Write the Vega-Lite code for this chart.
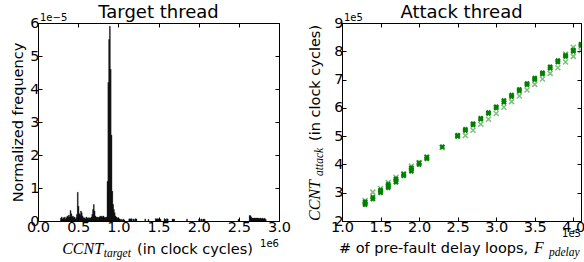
{
  "$schema": "https://vega.github.io/schema/vega-lite/v6.json",
  "padding": {"left": 10, "top": 3, "right": 5, "bottom": 5},
  "background": "white",
  "config": {
    "font": "DejaVu Sans",
    "view": {"stroke": "black", "strokeWidth": 1},
    "axis": {"grid": false, "domainColor": "black", "tickColor": "black", "tickSize": -4, "labelColor": "black", "labelFont": "DejaVu Sans", "labelFontSize": 14.5, "labelFlush": false, "titleFont": "DejaVu Sans", "titleFontSize": 14.5, "titleFontWeight": "normal", "titleColor": "black", "labelPadding": 3, "titlePadding": 4},
    "title": {"font": "DejaVu Sans", "fontSize": 18, "fontWeight": "normal", "color": "black"},
    "text": {"color": "black"}
  },
  "datasets": {
    "hist": [
      {"a":0.28,"b":0.29,"f":0.08},{"a":0.29,"b":0.30,"f":0.12},{"a":0.30,"b":0.31,"f":0.06},{"a":0.31,"b":0.32,"f":0.10},{"a":0.32,"b":0.33,"f":0.08},{"a":0.33,"b":0.34,"f":0.12},{"a":0.34,"b":0.35,"f":0.05},{"a":0.35,"b":0.36,"f":0.10},{"a":0.36,"b":0.37,"f":0.15},{"a":0.37,"b":0.38,"f":0.12},{"a":0.38,"b":0.39,"f":0.18},{"a":0.39,"b":0.40,"f":0.12},
      {"a":0.40,"b":0.41,"f":0.32},{"a":0.41,"b":0.42,"f":0.22},{"a":0.42,"b":0.43,"f":0.12},{"a":0.43,"b":0.44,"f":0.15},{"a":0.44,"b":0.45,"f":0.10},{"a":0.45,"b":0.46,"f":0.12},{"a":0.46,"b":0.47,"f":0.06},{"a":0.47,"b":0.48,"f":0.10},{"a":0.48,"b":0.49,"f":0.20},{"a":0.49,"b":0.50,"f":0.87},
      {"a":0.50,"b":0.51,"f":0.45},{"a":0.51,"b":0.52,"f":0.22},{"a":0.52,"b":0.53,"f":0.18},{"a":0.53,"b":0.54,"f":0.30},{"a":0.54,"b":0.55,"f":0.25},{"a":0.55,"b":0.56,"f":0.15},{"a":0.56,"b":0.57,"f":0.10},{"a":0.57,"b":0.58,"f":0.08},{"a":0.58,"b":0.59,"f":0.10},{"a":0.59,"b":0.60,"f":0.06},
      {"a":0.60,"b":0.61,"f":0.12},{"a":0.61,"b":0.62,"f":0.08},{"a":0.62,"b":0.63,"f":0.10},{"a":0.63,"b":0.64,"f":0.07},{"a":0.64,"b":0.65,"f":0.10},{"a":0.65,"b":0.66,"f":0.08},{"a":0.66,"b":0.67,"f":0.12},{"a":0.67,"b":0.68,"f":0.20},{"a":0.68,"b":0.69,"f":0.35},{"a":0.69,"b":0.70,"f":0.50},
      {"a":0.70,"b":0.71,"f":0.30},{"a":0.71,"b":0.72,"f":0.15},{"a":0.72,"b":0.73,"f":0.12},{"a":0.73,"b":0.74,"f":0.10},{"a":0.74,"b":0.75,"f":0.12},{"a":0.75,"b":0.76,"f":0.10},{"a":0.76,"b":0.77,"f":0.12},{"a":0.77,"b":0.78,"f":0.15},{"a":0.78,"b":0.79,"f":0.12},{"a":0.79,"b":0.80,"f":0.15},
      {"a":0.80,"b":0.81,"f":0.12},{"a":0.81,"b":0.82,"f":0.15},{"a":0.82,"b":0.83,"f":0.10},{"a":0.83,"b":0.84,"f":0.12},{"a":0.84,"b":0.85,"f":0.08},{"a":0.85,"b":0.86,"f":0.12},{"a":0.86,"b":0.87,"f":1.20},{"a":0.87,"b":0.88,"f":4.20},{"a":0.88,"b":0.89,"f":5.50},{"a":0.89,"b":0.90,"f":5.90},
      {"a":0.90,"b":0.91,"f":4.60},{"a":0.91,"b":0.92,"f":2.60},{"a":0.92,"b":0.93,"f":0.90},{"a":0.93,"b":0.94,"f":0.50},{"a":0.94,"b":0.95,"f":0.35},{"a":0.95,"b":0.96,"f":0.25},{"a":0.96,"b":0.97,"f":0.15},{"a":0.97,"b":0.98,"f":0.12},{"a":0.98,"b":0.99,"f":0.08},{"a":0.99,"b":1.00,"f":0.10},
      {"a":1.00,"b":1.01,"f":0.05},{"a":1.01,"b":1.02,"f":0.07},{"a":1.02,"b":1.03,"f":0.04},{"a":1.03,"b":1.04,"f":0.05},
      {"a":1.05,"b":1.06,"f":0.04},{"a":1.06,"b":1.07,"f":0.05},{"a":1.07,"b":1.08,"f":0.03},
      {"a":1.13,"b":1.14,"f":0.06},{"a":1.14,"b":1.15,"f":0.07},{"a":1.15,"b":1.16,"f":0.05},{"a":1.16,"b":1.17,"f":0.07},{"a":1.18,"b":1.19,"f":0.06},{"a":1.19,"b":1.20,"f":0.05},{"a":1.21,"b":1.22,"f":0.07},{"a":1.22,"b":1.23,"f":0.06},
      {"a":1.33,"b":1.34,"f":0.06},{"a":1.37,"b":1.38,"f":0.05},
      {"a":1.46,"b":1.47,"f":0.07},{"a":1.47,"b":1.48,"f":0.06},{"a":1.48,"b":1.49,"f":0.07},{"a":1.49,"b":1.50,"f":0.05},{"a":1.50,"b":1.51,"f":0.07},{"a":1.51,"b":1.52,"f":0.06},{"a":1.52,"b":1.53,"f":0.05},
      {"a":1.57,"b":1.58,"f":0.07},{"a":1.58,"b":1.59,"f":0.05},{"a":1.60,"b":1.61,"f":0.07},{"a":1.61,"b":1.62,"f":0.06},
      {"a":1.67,"b":1.68,"f":0.06},{"a":1.68,"b":1.69,"f":0.05},{"a":1.69,"b":1.70,"f":0.06},
      {"a":1.85,"b":1.86,"f":0.06},
      {"a":2.00,"b":2.01,"f":0.06},{"a":2.01,"b":2.02,"f":0.05},{"a":2.03,"b":2.04,"f":0.06},{"a":2.05,"b":2.06,"f":0.05},{"a":2.06,"b":2.07,"f":0.06},{"a":2.07,"b":2.08,"f":0.05},
      {"a":2.49,"b":2.50,"f":0.05},
      {"a":2.63,"b":2.64,"f":0.17},{"a":2.64,"b":2.65,"f":0.16},{"a":2.65,"b":2.66,"f":0.12},{"a":2.66,"b":2.67,"f":0.08},{"a":2.67,"b":2.68,"f":0.09},{"a":2.68,"b":2.69,"f":0.08},{"a":2.69,"b":2.70,"f":0.09},{"a":2.70,"b":2.71,"f":0.08},{"a":2.71,"b":2.72,"f":0.09},{"a":2.72,"b":2.73,"f":0.08},
      {"a":2.73,"b":2.74,"f":0.09},{"a":2.74,"b":2.75,"f":0.08},{"a":2.75,"b":2.76,"f":0.07},{"a":2.76,"b":2.77,"f":0.09},{"a":2.77,"b":2.78,"f":0.08},{"a":2.78,"b":2.79,"f":0.07},{"a":2.79,"b":2.80,"f":0.08},{"a":2.80,"b":2.81,"f":0.06},{"a":2.81,"b":2.82,"f":0.08},{"a":2.82,"b":2.83,"f":0.07},{"a":2.83,"b":2.84,"f":0.05}
    ],
    "dark": [
      {"x":1.3,"y":2.58},{"x":1.3,"y":2.63},{"x":1.3,"y":2.68},
      {"x":1.4,"y":2.78},{"x":1.4,"y":2.84},
      {"x":1.5,"y":3.0},{"x":1.5,"y":3.05},{"x":1.5,"y":3.09},
      {"x":1.6,"y":3.18},{"x":1.6,"y":3.24},{"x":1.6,"y":3.3},
      {"x":1.7,"y":3.37},{"x":1.7,"y":3.43},{"x":1.7,"y":3.49},
      {"x":1.8,"y":3.6},{"x":1.8,"y":3.66},
      {"x":1.9,"y":3.76},{"x":1.9,"y":3.82},{"x":1.9,"y":3.88},
      {"x":2.0,"y":4.0},{"x":2.0,"y":4.06},
      {"x":2.1,"y":4.2},{"x":2.1,"y":4.26},
      {"x":2.3,"y":4.62},
      {"x":2.5,"y":5.0},{"x":2.5,"y":5.03},
      {"x":2.6,"y":5.2},{"x":2.6,"y":5.24},
      {"x":2.7,"y":5.4},{"x":2.7,"y":5.44},
      {"x":2.8,"y":5.6},{"x":2.8,"y":5.63},
      {"x":2.9,"y":5.8},{"x":2.9,"y":5.83},
      {"x":3.0,"y":6.0},{"x":3.0,"y":6.04},
      {"x":3.1,"y":6.2},{"x":3.1,"y":6.26},
      {"x":3.2,"y":6.4},{"x":3.2,"y":6.45},
      {"x":3.3,"y":6.6},{"x":3.3,"y":6.65},
      {"x":3.4,"y":6.82},{"x":3.4,"y":6.86},
      {"x":3.5,"y":7.0},{"x":3.5,"y":7.05},
      {"x":3.6,"y":7.2},{"x":3.6,"y":7.24},
      {"x":3.7,"y":7.4},{"x":3.7,"y":7.45},
      {"x":3.8,"y":7.62},{"x":3.8,"y":7.67},
      {"x":3.9,"y":7.82},{"x":3.9,"y":7.86},
      {"x":4.0,"y":8.0},{"x":4.0,"y":8.04},
      {"x":4.1,"y":8.2},{"x":4.1,"y":8.25}
    ],
    "light": [
      {"x":1.3,"y":2.72},{"x":1.4,"y":3.02},{"x":1.5,"y":3.15},{"x":1.6,"y":3.36},{"x":1.7,"y":3.55},{"x":1.8,"y":3.66},{"x":1.9,"y":3.94},{"x":2.0,"y":4.07},{"x":2.1,"y":4.25},{"x":2.3,"y":4.6},{"x":2.5,"y":5.0},{"x":2.6,"y":5.02},{"x":2.7,"y":5.21},{"x":2.8,"y":5.42},{"x":2.9,"y":5.6},{"x":3.0,"y":5.8},{"x":3.1,"y":6.02},{"x":3.2,"y":6.22},{"x":3.3,"y":6.42},{"x":3.4,"y":6.63},{"x":3.5,"y":6.83},{"x":3.6,"y":7.02},{"x":3.7,"y":7.22},{"x":3.8,"y":7.42},{"x":3.9,"y":7.62},{"x":3.9,"y":7.9},{"x":4.0,"y":7.82},{"x":4.0,"y":8.14},{"x":4.1,"y":8.02}
    ]
  },
  "spacing": 63,
  "bounds": "flush",
  "hconcat": [
    {
      "width": 241,
      "height": 198,
      "title": {"text": "Target thread", "frame": "group", "offset": -9},
      "resolve": {"axis": {"x": "independent", "y": "independent"}},
      "layer": [
        {
          "data": {"name": "hist"},
          "mark": {"type": "bar", "color": "black", "stroke": "black", "strokeWidth": 0.4},
          "encoding": {
            "x": {"field": "a", "type": "quantitative", "scale": {"domain": [0, 3], "nice": false, "zero": false}, "axis": {"values": [0, 0.5, 1, 1.5, 2, 2.5, 3], "format": ".1f", "title": null}},
            "x2": {"field": "b"},
            "y": {"field": "f", "type": "quantitative", "stack": null, "scale": {"domain": [0, 6], "nice": false}, "axis": {"values": [0, 1, 2, 3, 4, 5, 6], "format": "d", "title": "Normalized frequency"}},
            "y2": {"datum": 0}
          }
        },
        {
          "data": {"name": "hist"},
          "mark": {"type": "point", "opacity": 0},
          "encoding": {
            "x": {"field": "a", "type": "quantitative", "axis": {"orient": "top", "labels": false, "domain": false, "title": null, "values": [0, 0.5, 1, 1.5, 2, 2.5, 3]}},
            "y": {"field": "f", "type": "quantitative", "axis": {"orient": "right", "labels": false, "domain": false, "title": null, "values": [0, 1, 2, 3, 4, 5, 6]}}
          }
        },
        {
          "data": {"values": [{}]},
          "mark": {"type": "text", "text": "1e−5", "align": "left", "baseline": "alphabetic", "fontSize": 10, "dx": 2, "dy": -2},
          "encoding": {"x": {"datum": 0, "type": "quantitative", "axis": null}, "y": {"datum": 6, "type": "quantitative", "axis": null}}
        },
        {
          "data": {"values": [{}]},
          "mark": {"type": "text", "text": "CCNT", "align": "right", "baseline": "alphabetic", "font": "Liberation Serif", "fontStyle": "italic", "fontSize": 16, "dy": 33},
          "encoding": {"x": {"datum": 0.81, "type": "quantitative", "axis": null}, "y": {"datum": 0, "type": "quantitative", "axis": null}}
        },
        {
          "data": {"values": [{}]},
          "mark": {"type": "text", "text": "target", "align": "left", "baseline": "alphabetic", "font": "Liberation Serif", "fontStyle": "italic", "fontSize": 11.5, "dy": 36},
          "encoding": {"x": {"datum": 0.82, "type": "quantitative", "axis": null}, "y": {"datum": 0, "type": "quantitative", "axis": null}}
        },
        {
          "data": {"values": [{}]},
          "mark": {"type": "text", "text": "(in clock cycles)", "align": "left", "baseline": "alphabetic", "fontSize": 14.5, "dy": 33},
          "encoding": {"x": {"datum": 1.232, "type": "quantitative", "axis": null}, "y": {"datum": 0, "type": "quantitative", "axis": null}}
        },
        {
          "data": {"values": [{}]},
          "mark": {"type": "text", "text": "1e6", "align": "right", "baseline": "alphabetic", "fontSize": 10, "dy": 26},
          "encoding": {"x": {"datum": 3, "type": "quantitative", "axis": null}, "y": {"datum": 0, "type": "quantitative", "axis": null}}
        }
      ]
    },
    {
      "width": 239,
      "height": 198,
      "title": {"text": "Attack thread", "frame": "group", "offset": -9},
      "resolve": {"axis": {"x": "independent", "y": "independent"}},
      "layer": [
        {
          "data": {"name": "light"},
          "mark": {"type": "point", "shape": "M-1,-1L1,1M-1,1L1,-1", "filled": false, "stroke": "#008000", "strokeWidth": 1.5, "opacity": 0.5, "size": 25, "clip": true},
          "encoding": {
            "x": {"field": "x", "type": "quantitative", "scale": {"domain": [1, 4.1], "nice": false, "zero": false}, "axis": {"values": [1, 1.5, 2, 2.5, 3, 3.5, 4], "format": ".1f", "title": null}},
            "y": {"field": "y", "type": "quantitative", "scale": {"domain": [2, 9], "nice": false, "zero": false}, "axis": {"values": [2, 3, 4, 5, 6, 7, 8, 9], "format": "d", "title": null}}
          }
        },
        {
          "data": {"name": "dark"},
          "mark": {"type": "point", "shape": "cross", "angle": 45, "filled": true, "color": "#008000", "opacity": 1, "size": 32, "clip": true},
          "encoding": {
            "x": {"field": "x", "type": "quantitative", "axis": {"orient": "top", "labels": false, "domain": false, "title": null, "values": [1, 1.5, 2, 2.5, 3, 3.5, 4]}},
            "y": {"field": "y", "type": "quantitative", "axis": {"orient": "right", "labels": false, "domain": false, "title": null, "values": [2, 3, 4, 5, 6, 7, 8, 9]}}
          }
        },
        {
          "data": {"values": [{}]},
          "mark": {"type": "text", "text": "1e5", "align": "left", "baseline": "alphabetic", "fontSize": 10, "dx": 2, "dy": -2},
          "encoding": {"x": {"datum": 1, "type": "quantitative", "axis": null}, "y": {"datum": 9, "type": "quantitative", "axis": null}}
        },
        {
          "data": {"values": [{}]},
          "mark": {"type": "text", "text": "1e5", "align": "right", "baseline": "alphabetic", "fontSize": 10, "dy": 16},
          "encoding": {"x": {"datum": 4.1, "type": "quantitative", "axis": null}, "y": {"datum": 2, "type": "quantitative", "axis": null}}
        },
        {
          "data": {"values": [{}]},
          "mark": {"type": "text", "text": "# of pre-fault delay loops,", "align": "left", "baseline": "alphabetic", "fontSize": 14.5, "dy": 32},
          "encoding": {"x": {"datum": 0.961, "type": "quantitative", "axis": null}, "y": {"datum": 2, "type": "quantitative", "axis": null}}
        },
        {
          "data": {"values": [{}]},
          "mark": {"type": "text", "text": "F", "align": "left", "baseline": "alphabetic", "font": "Liberation Serif", "fontStyle": "italic", "fontSize": 16, "dy": 32},
          "encoding": {"x": {"datum": 3.49, "type": "quantitative", "axis": null}, "y": {"datum": 2, "type": "quantitative", "axis": null}}
        },
        {
          "data": {"values": [{}]},
          "mark": {"type": "text", "text": "pdelay", "align": "left", "baseline": "alphabetic", "font": "Liberation Serif", "fontStyle": "italic", "fontSize": 11.5, "dy": 35},
          "encoding": {"x": {"datum": 3.685, "type": "quantitative", "axis": null}, "y": {"datum": 2, "type": "quantitative", "axis": null}}
        },
        {
          "data": {"values": [{}]},
          "mark": {"type": "text", "text": "CCNT", "align": "left", "baseline": "alphabetic", "angle": 270, "font": "Liberation Serif", "fontStyle": "italic", "fontSize": 16},
          "encoding": {"x": {"datum": 0.715, "type": "quantitative", "axis": null}, "y": {"datum": 2, "type": "quantitative", "axis": null}}
        },
        {
          "data": {"values": [{}]},
          "mark": {"type": "text", "text": "attack", "align": "left", "baseline": "alphabetic", "angle": 270, "font": "Liberation Serif", "fontStyle": "italic", "fontSize": 11.5},
          "encoding": {"x": {"datum": 0.754, "type": "quantitative", "axis": null}, "y": {"datum": 3.592, "type": "quantitative", "axis": null}}
        },
        {
          "data": {"values": [{}]},
          "mark": {"type": "text", "text": "(in clock cycles)", "align": "left", "baseline": "alphabetic", "angle": 270, "fontSize": 14.5},
          "encoding": {"x": {"datum": 0.715, "type": "quantitative", "axis": null}, "y": {"datum": 4.829, "type": "quantitative", "axis": null}}
        }
      ]
    }
  ]
}
